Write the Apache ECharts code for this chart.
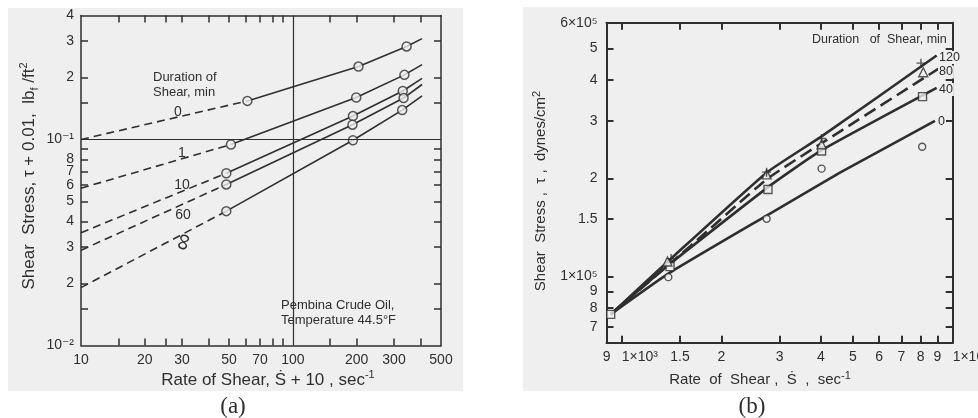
<!DOCTYPE html>
<html>
<head>
<meta charset="utf-8">
<title>Shear stress vs. rate of shear</title>
<script src="https://cdn.jsdelivr.net/npm/echarts@6/dist/echarts.min.js"></script>
<style>
  html, body { margin: 0; padding: 0; background: #ffffff; }
  #chart { width: 978px; height: 418px; }
</style>
</head>
<body>
<div id="chart"></div>
<script>
// ---------- Panel (a): Pembina crude oil, 44.5 °F ----------
// x = S + 10 (sec^-1), y = tau + 0.01 (lbf/ft^2)
const durationsA = ['0', '1', '10', '60', '∞'];
// extrapolated value of each curve at S + 10 = 10
const interceptA = [0.100, 0.058, 0.0353, 0.029, 0.0191];
// measured points for each shearing time
const measuredA0   = [[61, 0.154], [204, 0.226], [344, 0.283]];
const measuredA1   = [[51, 0.0946], [199, 0.160], [336, 0.206]];
const measuredA10  = [[48.5, 0.0686], [192, 0.130], [330, 0.172]];
const measuredA60  = [[48.5, 0.0605], [191, 0.118], [333, 0.159]];
const measuredAinf = [[48.5, 0.0449], [192, 0.0992], [328, 0.139]];
// right-hand end of each line
const endRateA = 407;
const endStressA = [0.309, 0.231, 0.198, 0.185, 0.163];

const xTicksA = [15, 20, 25, 30, 40, 50, 60, 70, 80, 90, 150, 200, 300, 400];
const xLabelValsA = [10, 20, 30, 50, 70, 100, 200, 300, 500];
const xLabelTxtA = ['10', '20', '30', '50', '70', '100', '200', '300', '500'];
const yTicksA = [0.015, 0.02, 0.03, 0.04, 0.05, 0.06, 0.07, 0.08, 0.09, 0.15, 0.2, 0.3];
const yLabelValsA = [0.01, 0.02, 0.03, 0.04, 0.05, 0.06, 0.07, 0.08, 0.1, 0.2, 0.3, 0.4];
const yLabelTxtA = ['10⁻²', '2', '3', '4', '5', '6', '7', '8', '10⁻¹', '2', '3', '4'];

// ---------- Panel (b): shear stress (dynes/cm^2) vs. rate of shear ----------
const durationsB = ['0', '40', '80', '120'];
const fitB0   = [[926, 76600], [1390, 102400], [2741, 153800], [4565, 208200], [8843, 300000]];
const fitB40  = [[926, 76600], [1400, 109400], [2763, 187700], [4018, 244000], [8948, 379000]];
const fitB80  = [[926, 76600], [1608, 123700], [2741, 198600], [4018, 256300], [9047, 433000]];
const fitB120 = [[926, 76600], [1432, 115200], [2741, 208200], [4018, 268900], [8948, 476000]];
const circlesB   = [[1383, 99600], [2741, 150300], [4018, 214200], [8091, 250000]];
const squaresB   = [[926, 76600], [1400, 107300], [2767, 184900], [4018, 242700], [8110, 356000]];
const trianglesB = [[1375, 111200], [2741, 205700], [4018, 254500], [8152, 423000]];
const crossesB   = [[1410, 113500], [2741, 209000], [4018, 265000], [8022, 451000]];

const xTicksB = [1000, 1500, 2000, 3000, 4000, 5000, 6000, 7000, 8000, 9000];
const xLabelValsB = [900, 1500, 2000, 3000, 4000, 5000, 6000, 7000, 8000, 9000];
const xLabelTxtB = ['9', '1.5', '2', '3', '4', '5', '6', '7', '8', '9'];
// decade labels are written starting at their tick
const xDecadeValsB = [1000, 10000];
const xDecadeTxtB = ['1×10³', '1×10⁴'];
const yTicksB = [70000, 80000, 90000, 100000, 150000, 200000, 300000, 400000, 500000];
const yLabelValsB = [70000, 80000, 90000, 100000, 150000, 200000, 300000, 400000, 500000, 600000];
const yLabelTxtB = ['7', '8', '9', '1×10⁵', '1.5', '2', '3', '4', '5', '6×10⁵'];

// ---------- styling ----------
const INK = '#2f2f2f';
const PAPER = '#efefef';
const SANS = '"Liberation Sans", "DejaVu Sans", sans-serif';
const SERIF = '"Liberation Serif", "DejaVu Serif", serif';

function labelLookup(values, texts) {
  return function (v) {
    for (let i = 0; i < values.length; i++) {
      if (Math.abs(Math.log10(v) - Math.log10(values[i])) < 1e-6) return texts[i];
    }
    return '';
  };
}

function logAxis(grid, position, min, max, ticks, lineW, labelVals, labelTxt, labelExtra) {
  const axis = {
    type: 'log', logBase: 10, gridIndex: grid, position: position, min: min, max: max,
    axisLine: { show: true, onZero: false, lineStyle: { color: INK, width: lineW } },
    axisTick: { show: !!ticks, inside: true, length: 7, customValues: ticks || [],
                lineStyle: { color: INK, width: lineW } },
    splitLine: { show: false }, minorTick: { show: false }, minorSplitLine: { show: false },
    axisLabel: { show: false }
  };
  if (labelVals) {
    axis.axisLabel = Object.assign({
      show: true, customValues: labelVals, formatter: labelLookup(labelVals, labelTxt),
      color: INK, fontFamily: SANS, fontSize: 14, margin: 8, hideOverlap: false
    }, labelExtra || {});
  }
  return axis;
}

// panel (b) range, padded a hair so the edge labels survive rounding
const xMinB = 899.5, xMaxB = 10005;
const decadeAxis = logAxis(1, 'bottom', xMinB, xMaxB, null, 2, xDecadeValsB, xDecadeTxtB,
                           { margin: 7, align: 'left' });
decadeAxis.axisLine.show = false;

const xAxes = [
  logAxis(0, 'bottom', 9.999, 500.05, xTicksA, 1.5, xLabelValsA, xLabelTxtA),
  logAxis(0, 'top', 9.999, 500.05, xTicksA, 1.5),
  logAxis(1, 'bottom', xMinB, xMaxB, xTicksB, 2, xLabelValsB, xLabelTxtB, { margin: 7 }),
  logAxis(1, 'top', xMinB, xMaxB, xTicksB, 2),
  decadeAxis
];
const yAxes = [
  logAxis(0, 'left', 0.009999, 0.40004, yTicksA, 1.5, yLabelValsA, yLabelTxtA, { margin: 7 }),
  logAxis(0, 'right', 0.009999, 0.40004, yTicksA, 1.5),
  logAxis(1, 'left', 62700, 600060, yTicksB, 2, yLabelValsB, yLabelTxtB, { margin: 9 }),
  logAxis(1, 'right', 62700, 600060, yTicksB, 2)
];

// ---------- series ----------
const series = [];
const measuredA = [measuredA0, measuredA1, measuredA10, measuredA60, measuredAinf];
measuredA.forEach(function (pts, i) {
  series.push({
    name: durationsA[i] + ' extrapolated', type: 'line', xAxisIndex: 0, yAxisIndex: 0,
    data: [[10, interceptA[i]], pts[0]], symbol: 'none', silent: true, z: 3,
    lineStyle: { color: INK, width: 1.6, type: [8, 5] }
  });
  series.push({
    name: durationsA[i] + ' min', type: 'line', xAxisIndex: 0, yAxisIndex: 0,
    data: pts.concat([[endRateA, endStressA[i]]]), symbol: 'none', silent: true, z: 3,
    lineStyle: { color: INK, width: 1.6 }
  });
  series.push({
    name: durationsA[i] + ' data', type: 'scatter', xAxisIndex: 0, yAxisIndex: 0,
    data: pts, symbol: 'circle', symbolSize: 9, z: 4,
    itemStyle: { color: PAPER, borderColor: INK, borderWidth: 1.5 }
  });
});
// crosshair lines at S + 10 = 100 and tau + 0.01 = 0.1
series.push({
  name: 'reference', type: 'line', xAxisIndex: 0, yAxisIndex: 0, data: [], silent: true,
  markLine: {
    silent: true, symbol: ['none', 'none'], label: { show: false }, animation: false,
    lineStyle: { color: INK, width: 1.2, type: 'solid' },
    data: [{ xAxis: 100 }, { yAxis: 0.1 }]
  }
});

const fitsB = [fitB0, fitB40, fitB80, fitB120];
fitsB.forEach(function (pts, i) {
  series.push({
    name: durationsB[i] + ' min fit', type: 'line', xAxisIndex: 2, yAxisIndex: 2,
    data: pts, symbol: 'none', smooth: 0.15, silent: true, z: 3,
    lineStyle: { color: INK, width: 2.6, type: durationsB[i] === '80' ? [13, 6] : 'solid' }
  });
});
const markerStyle = { color: PAPER, borderColor: INK, borderWidth: 1.4 };
series.push({ name: '0 min', type: 'scatter', xAxisIndex: 2, yAxisIndex: 2, data: circlesB,
  symbol: 'circle', symbolSize: 7, z: 4, itemStyle: markerStyle });
series.push({ name: '40 min', type: 'scatter', xAxisIndex: 2, yAxisIndex: 2, data: squaresB,
  symbol: 'rect', symbolSize: 8, z: 4, itemStyle: markerStyle });
series.push({ name: '80 min', type: 'scatter', xAxisIndex: 2, yAxisIndex: 2, data: trianglesB,
  symbol: 'triangle', symbolSize: 9, z: 4, itemStyle: markerStyle });
series.push({ name: '120 min', type: 'scatter', xAxisIndex: 2, yAxisIndex: 2, data: crossesB,
  symbol: 'path://M5,0L5,10M0,5L10,5', symbolSize: 9, z: 5,
  itemStyle: { color: 'none', borderColor: INK, borderWidth: 1.4 } });

// ---------- annotations ----------
function txt(x, y, text, size, extra, el) {
  return Object.assign({
    type: 'text', x: x, y: y, z: 60, silent: true,
    style: Object.assign({
      text: text, fill: INK, fontSize: size, fontFamily: SANS,
      align: 'left', verticalAlign: 'middle'
    }, extra || {})
  }, el || {});
}
const supSub = {
  sup: { fontSize: 11, lineHeight: 11, verticalAlign: 'top', fontFamily: SANS, fill: INK },
  sub: { fontSize: 11, lineHeight: 11, verticalAlign: 'bottom', fontFamily: SANS, fill: INK }
};
const labelBg = { backgroundColor: PAPER, padding: [0, 1, 0, 1] };

const graphics = [
  { type: 'rect', z: -10, silent: true, shape: { x: 8, y: 8, width: 455, height: 383 },
    style: { fill: PAPER } },
  { type: 'rect', z: -10, silent: true, shape: { x: 523, y: 7, width: 455, height: 384 },
    style: { fill: PAPER } },

  // panel (a)
  txt(153, 77, 'Duration of', 13),
  txt(153, 92, 'Shear, min', 13),
  txt(178, 112, durationsA[0], 14, { align: 'center' }),
  txt(182, 153, durationsA[1], 14, { align: 'center' }),
  txt(182, 185, durationsA[2], 14, { align: 'center' }),
  txt(183, 215, durationsA[3], 14, { align: 'center' }),
  txt(184, 242, durationsA[4], 24, { align: 'center' }, { rotation: Math.PI * 0.42 }),
  txt(281, 305, 'Pembina Crude Oil,', 13),
  txt(281, 320, 'Temperature 44.5°F', 13),
  txt(268, 380, 'Rate of Shear, Ṡ + 10 , sec{sup|-1}', 17,
      { align: 'center', rich: supSub, lineHeight: 22 }),
  txt(29, 176, 'Shear  Stress, τ + 0.01,  lb{sub|f} /ft{sup|2}', 17,
      { align: 'center', rich: supSub, lineHeight: 22 }, { rotation: Math.PI / 2 }),
  txt(233, 407, '(a)', 23, { align: 'center', fontFamily: SERIF }),

  // panel (b)
  txt(812, 40, 'Duration   of  Shear, min', 12.5),
  txt(938, 57.5, durationsB[3], 12.5, labelBg),
  txt(938, 72, durationsB[2], 12.5, labelBg),
  txt(938, 89.5, durationsB[1], 12.5, labelBg),
  txt(937, 121.7, durationsB[0], 12.5, labelBg),
  txt(760, 380, 'Rate  of  Shear ,  Ṡ  ,  sec{sup|-1}', 15,
      { align: 'center', rich: supSub, lineHeight: 20 }),
  txt(541, 191, 'Shear  Stress ,  τ ,  dynes/cm{sup|2}', 15,
      { align: 'center', rich: supSub, lineHeight: 20 }, { rotation: Math.PI / 2 }),
  txt(752, 407, '(b)', 23, { align: 'center', fontFamily: SERIF })
];

const chart = echarts.init(document.getElementById('chart'), null, { renderer: 'canvas' });
chart.setOption({
  animation: false,
  backgroundColor: '#ffffff',
  textStyle: { fontFamily: SANS, color: INK },
  grid: [
    { left: 81, top: 15.5, width: 360, height: 330, outerBoundsMode: 'none', containLabel: false },
    { left: 606.5, top: 22.7, width: 346.2, height: 320, outerBoundsMode: 'none', containLabel: false }
  ],
  xAxis: xAxes,
  yAxis: yAxes,
  series: series,
  graphic: graphics
});
</script>
</body>
</html>
